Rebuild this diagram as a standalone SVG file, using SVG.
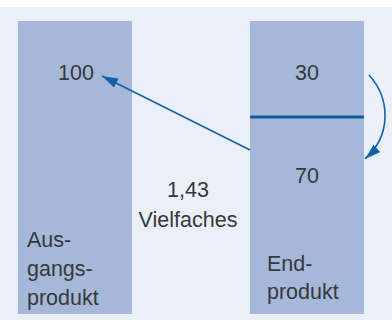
<svg xmlns="http://www.w3.org/2000/svg" width="392" height="320" viewBox="0 0 392 320">
  <style>
    .bar { fill: #a5b8d9; }
    .lbl { font-family: "Liberation Sans", Arial, Helvetica, sans-serif; font-size: 21.5px; fill: #383838; }
    .mid { text-anchor: middle; }
    .conn { fill: none; stroke: #1463a8; stroke-width: 1.6; }
  </style>
  <defs>
    <marker id="head" viewBox="0 0 16 10" refX="16" refY="5" markerWidth="16" markerHeight="10" markerUnits="userSpaceOnUse" orient="auto">
      <path d="M0,0 L16,5 L0,10 z" fill="#1463a8"/>
    </marker>
  </defs>

  <!-- background panel -->
  <rect x="0" y="0" width="392" height="320" fill="#ffffff"/>
  <rect x="0" y="7" width="392" height="313" fill="#ebf0f8"/>

  <!-- starting product -->
  <g id="ausgangsprodukt">
    <rect class="bar" x="18" y="21" width="114" height="293"/>
    <text class="lbl mid" x="76" y="80">100</text>
    <text class="lbl" x="27" y="247">Aus-</text>
    <text class="lbl" x="27" y="276">gangs-</text>
    <text class="lbl" x="27" y="305">produkt</text>
  </g>

  <!-- end product, split into 30 / 70 -->
  <g id="endprodukt">
    <rect class="bar" x="250" y="21" width="114" height="293"/>
    <rect x="250" y="115.5" width="114" height="3" fill="#0f5a9e"/>
    <text class="lbl mid" x="307" y="80">30</text>
    <text class="lbl mid" x="307" y="183">70</text>
    <text class="lbl" x="267" y="271">End-</text>
    <text class="lbl" x="267" y="299">produkt</text>
  </g>

  <!-- multiplier label -->
  <g id="faktor">
    <text class="lbl mid" x="188" y="197">1,43</text>
    <text class="lbl mid" x="188" y="227">Vielfaches</text>
  </g>

  <g id="connectors">
    <line class="conn" x1="250" y1="150" x2="102" y2="76" marker-end="url(#head)"/>
    <path class="conn" d="M369,75 C390,98 392,135 365,159" marker-end="url(#head)"/>
  </g>
</svg>
